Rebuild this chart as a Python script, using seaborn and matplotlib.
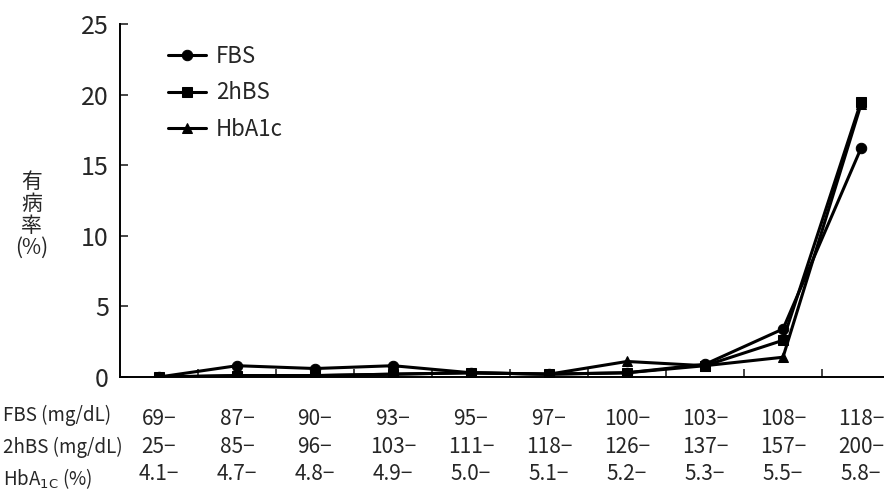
import pandas as pd
import matplotlib.pyplot as plt
import seaborn as sns

fbs_bins = ["69", "87", "90", "93", "95", "97", "100", "103", "108", "118"]
hbs_bins = ["25", "85", "96", "103", "111", "118", "126", "137", "157", "200"]
a1c_bins = ["4.1", "4.7", "4.8", "4.9", "5.0", "5.1", "5.2", "5.3", "5.5", "5.8"]

fbs = [0, 0.8, 0.6, 0.8, 0.3, 0.2, 0.3, 0.9, 3.4, 16.2]
hbs = [0, 0.1, 0.1, 0.2, 0.3, 0.2, 0.3, 0.8, 2.6, 19.5]
a1c = [0, 0.1, 0.1, 0.2, 0.3, 0.2, 1.1, 0.8, 1.4, 19.3]

series_names = ["FBS", "2hBS", "HbA1c"]
row_labels = ["FBS (mg/dL)", "2hBS (mg/dL)", r"HbA$_{\mathrm{1C}}$ (%)"]

sns.set_style("ticks")
plt.rcParams["font.family"] = ["Noto Sans CJK JP", "DejaVu Sans"]

# long form table for seaborn
n = len(fbs)
df = pd.DataFrame({
    "x": list(range(n)) * 3,
    "rate": fbs + hbs + a1c,
    "series": [s for s in series_names for _ in range(n)],
})

fig = plt.figure(figsize=(8.84, 4.93), dpi=100)
ax = fig.add_axes([120 / 884, 116 / 493, 780 / 884, 353 / 493])

sns.lineplot(data=df, x="x", y="rate", style="series", markers=["o", "s", "^"],
             dashes=False, color="black", linewidth=2.2, markersize=7.5,
             markeredgecolor="black", ax=ax)

ax.set_xlim(-0.5, n - 0.5)
ax.set_ylim(0, 25)
ax.set_yticks([0, 5, 10, 15, 20, 25])
ax.tick_params(axis="y", direction="in", length=6, width=1.2, labelsize=18, pad=8)

# category labels under each point, minor ticks between them
labels = [f"{a}−\n{b}−\n{c}−" for a, b, c in zip(fbs_bins, hbs_bins, a1c_bins)]
ax.set_xticks(range(n), labels=labels)
ax.set_xticks([i + 0.5 for i in range(n - 1)], minor=True)
ax.tick_params(axis="x", which="major", length=0, labelsize=15, pad=22)
ax.tick_params(axis="x", which="minor", direction="in", length=6, width=1.2)
for lbl in ax.get_xticklabels():
    lbl.set_linespacing(1.35)

sns.despine(ax=ax)
for sp in ["left", "bottom"]:
    ax.spines[sp].set_linewidth(1.4)
    ax.spines[sp].set_color("black")

ax.set_xlabel("")
ax.set_ylabel("有\n病\n率\n(%)", rotation=0, fontsize=15, linespacing=1.0,
              va="center", ha="center")
ax.yaxis.set_label_coords(-0.113, 0.46)

# row captions at far left
for k, t in enumerate(row_labels):
    fig.text(3 / 884, (493 - 415 - 32 * k) / 493, t, fontsize=13.5,
             ha="left", va="center")

leg = ax.legend(loc="upper left", bbox_to_anchor=(0.036, 0.997), frameon=False,
                fontsize=16, handlelength=1.7, labelspacing=0.6, handletextpad=0.45)
for h in leg.legend_handles:
    h.set_color("black")

fig.savefig("out.png", dpi=100)
